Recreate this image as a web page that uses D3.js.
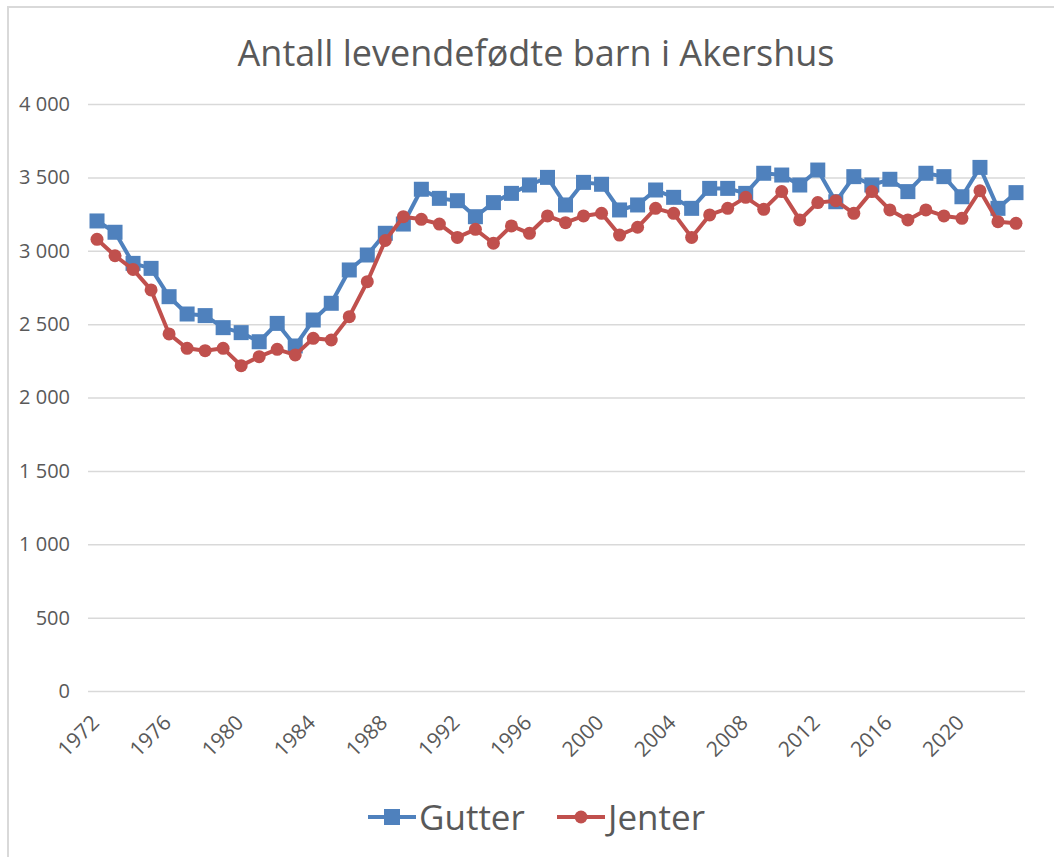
<!DOCTYPE html>
<html>
<head>
<meta charset="utf-8">
<script src="https://cdn.jsdelivr.net/npm/d3@7"></script>
<style>
  body { margin: 0; background: #fff; }
  text { font-family: "Open Sans", sans-serif; fill: #595959; }
</style>
</head>
<body>
<div id="chart"></div>
<script>
// Data
var years = [1972, 1973, 1974, 1975, 1976, 1977, 1978, 1979, 1980, 1981, 1982, 1983, 1984,
  1985, 1986, 1987, 1988, 1989, 1990, 1991, 1992, 1993, 1994, 1995, 1996, 1997, 1998, 1999,
  2000, 2001, 2002, 2003, 2004, 2005, 2006, 2007, 2008, 2009, 2010, 2011, 2012, 2013, 2014,
  2015, 2016, 2017, 2018, 2019, 2020, 2021, 2022, 2023];

var gutter = [3203, 3126, 2914, 2880, 2687, 2569, 2558, 2476, 2442, 2380, 2505, 2351, 2528,
  2642, 2869, 2971, 3119, 3182, 3419, 3357, 3341, 3232, 3328, 3391, 3448, 3500, 3312, 3466,
  3453, 3278, 3312, 3414, 3364, 3289, 3425, 3425, 3391, 3528, 3516, 3448, 3550, 3334, 3505,
  3448, 3487, 3403, 3528, 3505, 3368, 3568, 3289, 3396];

var jenter = [3078, 2966, 2873, 2733, 2433, 2335, 2319, 2335, 2217, 2278, 2328, 2290, 2403,
  2392, 2551, 2789, 3070, 3232, 3214, 3182, 3091, 3146, 3051, 3169, 3119, 3237, 3191, 3237,
  3255, 3107, 3160, 3289, 3255, 3091, 3244, 3289, 3364, 3282, 3403, 3210, 3328, 3341, 3255,
  3403, 3278, 3210, 3278, 3237, 3221, 3409, 3198, 3187];

var yTicks = [0, 500, 1000, 1500, 2000, 2500, 3000, 3500, 4000];
var xTicks = [1972, 1976, 1980, 1984, 1988, 1992, 1996, 2000, 2004, 2008, 2012, 2016, 2020];

var title = "Antall levendefødte barn i Akershus";
var seriesNames = ["Gutter", "Jenter"];
var colors = ["#4F81BD", "#C0504D"];

var W = 1054, H = 857;
var plot = { left: 88, right: 1025, top: 104, bottom: 691 };

var svg = d3.select("#chart")
  .append("svg")
  .attr("width", W)
  .attr("height", H);

svg.append("rect")
  .attr("width", W).attr("height", H)
  .attr("fill", "#fff");

// chart area border (cut off at right and bottom)
svg.append("rect")
  .attr("x", 8).attr("y", 7)
  .attr("width", 1100).attr("height", 900)
  .attr("fill", "none")
  .attr("stroke", "#d9d9d9")
  .attr("stroke-width", 2);

// Title
svg.append("text")
  .attr("x", 536)
  .attr("y", 66)
  .attr("text-anchor", "middle")
  .style("font-size", "36px")
  .text(title);

// Scales
var xScale = d3.scalePoint()
  .domain(years)
  .range([plot.left, plot.right])
  .padding(0.5);

var yScale = d3.scaleLinear()
  .domain([0, 4000])
  .range([plot.bottom, plot.top]);

var locale = d3.formatLocale({ decimal: ",", thousands: " ", grouping: [3], currency: ["", ""] });
var fmt = locale.format(",");

// Y axis with gridlines
var yAxis = svg.append("g")
  .attr("transform", "translate(" + plot.left + ",0)")
  .call(d3.axisLeft(yScale)
    .tickValues(yTicks)
    .tickFormat(fmt)
    .tickSize(-(plot.right - plot.left))
    .tickPadding(18));

yAxis.select(".domain").remove();
yAxis.selectAll(".tick line")
  .attr("stroke", "#d9d9d9")
  .attr("stroke-width", 1.5);
yAxis.selectAll(".tick text")
  .style("font-size", "20px")
  .style("font-family", "'Open Sans', sans-serif")
  .attr("fill", "#595959");

// X axis labels
var xAxis = svg.append("g")
  .attr("transform", "translate(0," + plot.bottom + ")")
  .call(d3.axisBottom(xScale).tickValues(xTicks).tickSize(0));

xAxis.select(".domain").remove();
xAxis.selectAll(".tick text")
  .attr("y", 0)
  .attr("dy", 0)
  .attr("text-anchor", "end")
  .attr("transform", "translate(3,33) rotate(-45)")
  .style("font-size", "21px")
  .style("font-family", "'Open Sans', sans-serif")
  .attr("fill", "#595959");

// Lines
var line = d3.line()
  .x(function (d, i) { return xScale(years[i]); })
  .y(function (d) { return yScale(d); });

svg.append("path")
  .attr("fill", "none")
  .attr("stroke", colors[0])
  .attr("stroke-width", 4)
  .attr("stroke-linejoin", "round")
  .attr("d", line(gutter));

svg.selectAll(".sq")
  .data(gutter)
  .enter()
  .append("rect")
  .attr("class", "sq")
  .attr("x", function (d, i) { return xScale(years[i]) - 7.5; })
  .attr("y", function (d) { return yScale(d) - 7.5; })
  .attr("width", 15)
  .attr("height", 15)
  .attr("fill", colors[0]);

svg.append("path")
  .attr("fill", "none")
  .attr("stroke", colors[1])
  .attr("stroke-width", 4)
  .attr("stroke-linejoin", "round")
  .attr("d", line(jenter));

svg.selectAll(".dot")
  .data(jenter)
  .enter()
  .append("circle")
  .attr("class", "dot")
  .attr("cx", function (d, i) { return xScale(years[i]); })
  .attr("cy", function (d) { return yScale(d); })
  .attr("r", 6.5)
  .attr("fill", colors[1]);

// Legend
var legendY = 817;
var legendItems = [
  { name: seriesNames[0], color: colors[0], x: 368, shape: "square" },
  { name: seriesNames[1], color: colors[1], x: 557, shape: "circle" }
];

var legend = svg.selectAll(".legend")
  .data(legendItems)
  .enter()
  .append("g")
  .attr("class", "legend")
  .attr("transform", function (d) { return "translate(" + d.x + "," + legendY + ")"; });

legend.append("line")
  .attr("x1", 0).attr("x2", 48)
  .attr("y1", 0).attr("y2", 0)
  .attr("stroke", function (d) { return d.color; })
  .attr("stroke-width", 4);

legend.filter(function (d) { return d.shape === "square"; })
  .append("rect")
  .attr("x", 16).attr("y", -8)
  .attr("width", 16).attr("height", 16)
  .attr("fill", function (d) { return d.color; });

legend.filter(function (d) { return d.shape === "circle"; })
  .append("circle")
  .attr("cx", 24).attr("cy", 0)
  .attr("r", 6.5)
  .attr("fill", function (d) { return d.color; });

legend.append("text")
  .attr("x", 51)
  .attr("y", 13)
  .style("font-size", "35px")
  .text(function (d) { return d.name; });
</script>
</body>
</html>
